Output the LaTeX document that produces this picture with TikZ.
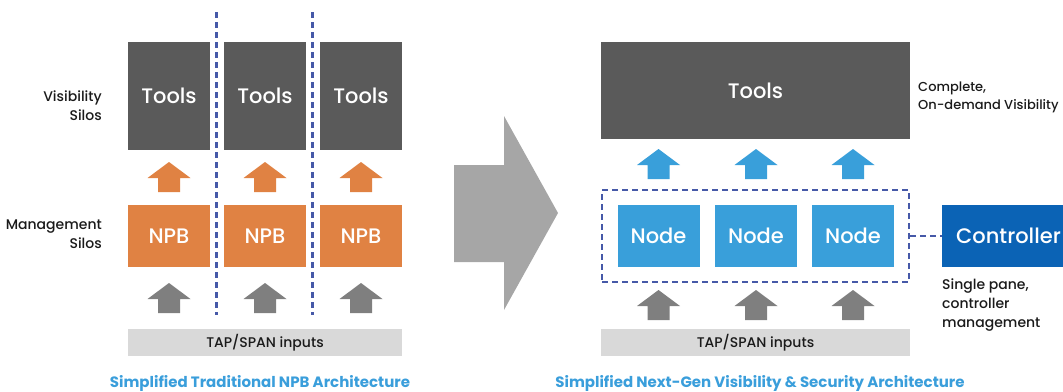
\documentclass[tikz,border=0pt]{standalone}
\usepackage{fontspec}
\setmainfont{Poppins}[UprightFont=* Medium, BoldFont=* Bold]
\definecolor{toolgray}{HTML}{5A5A5A}
\definecolor{npborange}{HTML}{E08243}
\definecolor{bargray}{HTML}{D9D9D9}
\definecolor{arrgray}{HTML}{7F7F7F}
\definecolor{bigarr}{HTML}{A6A6A6}
\definecolor{nodeblue}{HTML}{399FDA}
\definecolor{ctrlblue}{HTML}{0B63B5}
\definecolor{capblue}{HTML}{3A9EDB}
\definecolor{dashblue}{HTML}{4659A8}
\definecolor{labtext}{HTML}{1A1A1A}
\begin{document}
\begin{tikzpicture}[x=1pt,y=-1pt,
  box/.style={inner sep=0pt, text=white, font=\fontsize{21}{24}\selectfont},
  bar/.style={inner sep=0pt, fill=bargray, text=labtext, font=\fontsize{14}{16}\selectfont},
  lab/.style={inner sep=0pt, text=labtext, font=\fontsize{14}{19}\selectfont},
  captext/.style={inner sep=0pt, text=capblue, font=\bfseries\fontsize{15}{18}\selectfont},
  dashline/.style={draw=dashblue, line width=2.2pt, dash pattern=on 6pt off 4pt},
  blockarrow/.pic={\fill (0,0) -- (21.5,16) -- (11,16) -- (11,30) -- (-11,30) -- (-11,16) -- (-21.5,16) -- cycle;}
]
\clip (0,0) rectangle (1063,391);
\useasboundingbox (0,0) rectangle (1063,391);

% ---------- left: traditional ----------
\foreach \i/\cx in {1/169,2/265,3/361}{
  \node[box, fill=toolgray, minimum width=82pt, minimum height=108pt] (lt\i) at (\cx,96) {Tools};
  \node[box, fill=npborange, minimum width=82pt, minimum height=62pt] (npb\i) at (\cx,236) {NPB};
  \pic[npborange] at (\cx,162) {blockarrow};
  \pic[arrgray] at (\cx,283) {blockarrow};
}
\node[bar, minimum width=274pt, minimum height=27pt] (ltap) at (265,342.5) {TAP/SPAN inputs};

\coordinate (d1t) at (216.5,12); \coordinate (d1b) at (216.5,315);
\coordinate (d2t) at (312.5,12); \coordinate (d2b) at (312.5,315);
\draw[dashline] (d1t) -- (d1b);
\draw[dashline] (d2t) -- (d2b);

\node[lab, anchor=east, align=right] (vislab) at (102,106) {Visibility\\Silos};
\node[lab, anchor=east, align=right] (mgmtlab) at (102,234) {Management\\Silos};
\node[captext] (lcap) at (260,383) {Simplified Traditional NPB Architecture};

% ---------- big arrow ----------
\fill[bigarr] (454,165) -- (504,165) -- (504,116) -- (558,213) -- (504,310) -- (504,262) -- (454,262) -- cycle;

% ---------- right: next-gen ----------
\node[box, fill=toolgray, minimum width=309pt, minimum height=97pt] (rt) at (755.5,90.5) {Tools};
\foreach \i/\cx in {1/658.5,2/756,3/853}{
  \node[box, fill=nodeblue, minimum width=82pt, minimum height=62pt] (nd\i) at (\cx,236) {Node};
  \pic[nodeblue] at (\cx,149) {blockarrow};
  \pic[arrgray] at (\cx,290) {blockarrow};
}
\node[inner sep=0pt, dashline, minimum width=307pt, minimum height=92pt] (grp) at (755.5,236) {};
\node[box, fill=ctrlblue, anchor=west, minimum width=150pt, minimum height=62pt, align=left, text width=150pt] (ctrl) at (942,236) {\hspace*{14pt}Controller};
\draw[dashline] (grp.east) -- (ctrl.west);
\node[bar, minimum width=309pt, minimum height=27pt] (rtap) at (755.5,342.5) {TAP/SPAN inputs};

\node[lab, anchor=west, align=left, font=\fontsize{13}{18}\selectfont] (complab) at (918,97) {Complete,\\On-demand Visibility};
\node[lab, anchor=west, align=left] (singlab) at (942,305) {Single pane,\\controller\\management};
\node[captext] (rcap) at (760,383) {Simplified Next-Gen Visibility \& Security Architecture};
\end{tikzpicture}
\end{document}
